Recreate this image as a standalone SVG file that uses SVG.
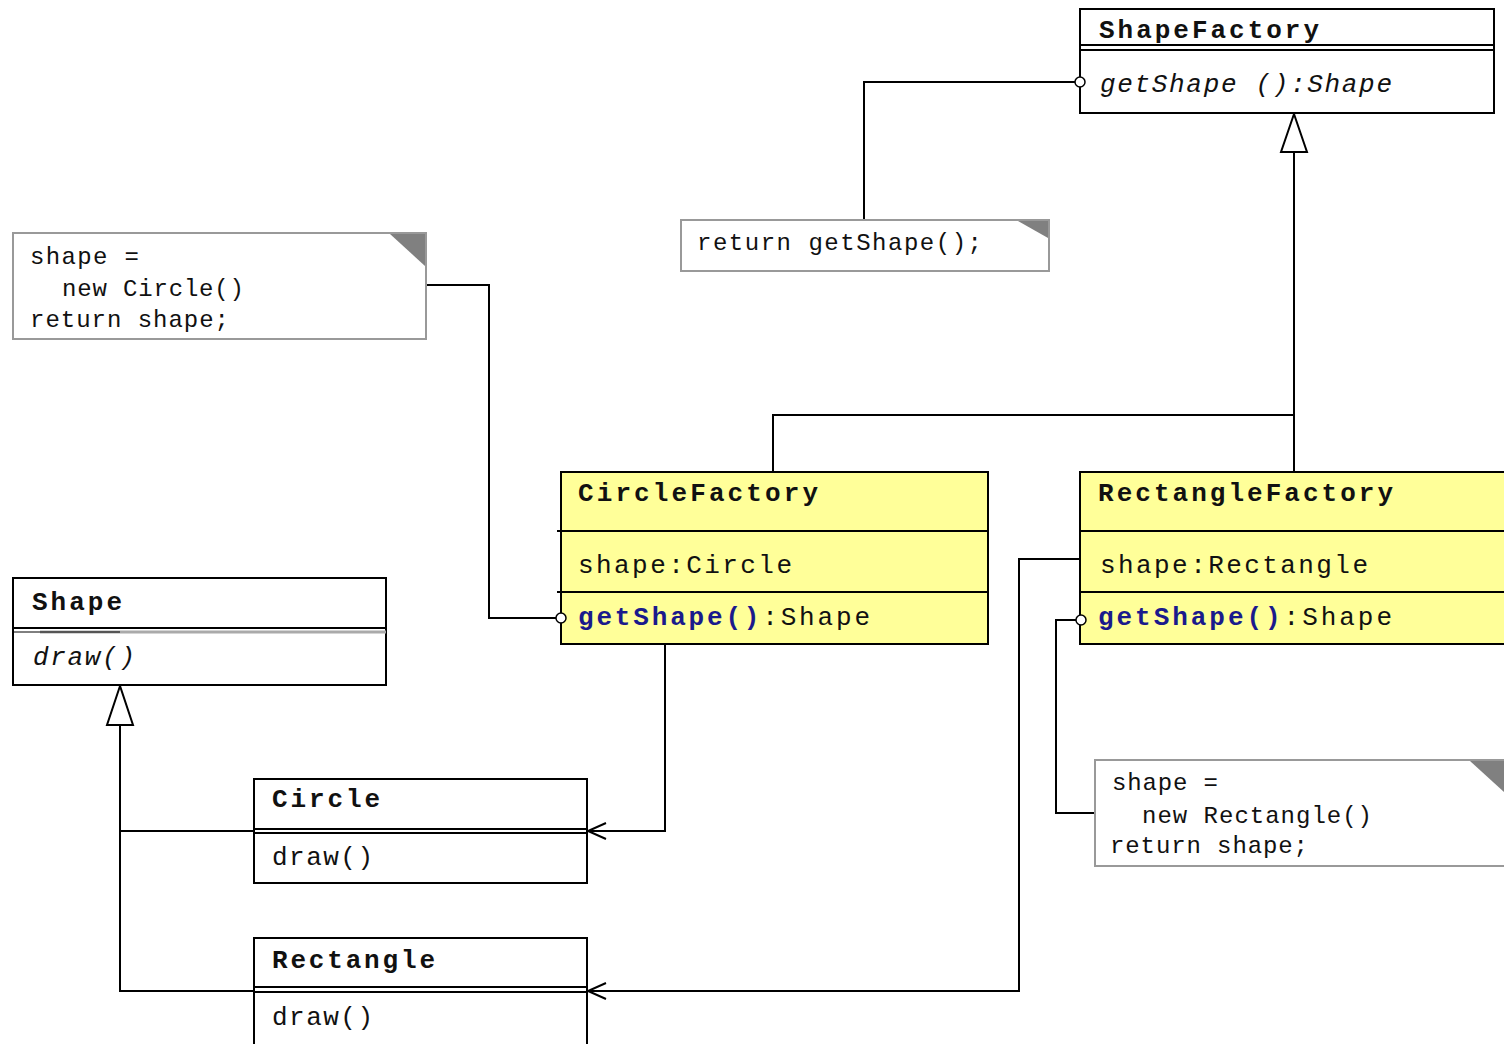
<svg xmlns="http://www.w3.org/2000/svg" width="1504" height="1044" viewBox="0 0 1504 1044">
<defs>
<style>
text{font-family:"Liberation Mono","Courier New",monospace;fill:#111}
.t{font-size:26px;font-weight:bold}
.m{font-size:26px}
.n{font-size:24px}
.i{font-style:italic}
.b{fill:#1a1a8c;font-weight:bold}
.box{fill:#fff;stroke:#000;stroke-width:2}
.yel{fill:#ffff99;stroke:#000;stroke-width:2}
.note{fill:#fff;stroke:#999;stroke-width:2}
.corner{fill:#808080}
.div{stroke:#000;stroke-width:2}
.c{fill:none;stroke:#000;stroke-width:2}
.port{fill:#fff;stroke:#000;stroke-width:1.5}
.gen{fill:#fff;stroke:#000;stroke-width:2}
</style>
</defs>
<rect width="1504" height="1044" fill="#fff"/>

<g id="connectors">
<polyline class="c" points="1080,82 864,82 864,220"/>
<polyline class="c" points="1294,152 1294,472"/>
<polyline class="c" points="1294,415 773,415 773,472"/>
<polyline class="c" points="426,285 489,285 489,618 556,618"/>
<polyline class="c" points="665,644 665,831 588,831"/>
<polyline class="c" points="606,823 588,831 606,839"/>
<polyline class="c" points="1080,559 1019,559 1019,991 588,991"/>
<polyline class="c" points="606,983 588,991 606,999"/>
<polyline class="c" points="1076,620 1056,620 1056,813 1095,813"/>
<polyline class="c" points="120,725 120,991 254,991"/>
<polyline class="c" points="120,831 254,831"/>
<polygon class="gen" points="1294,114 1281,152 1307,152"/>
<polygon class="gen" points="120,686 107,725 133,725"/>
</g>

<g id="ShapeFactory">
<rect class="box" x="1080" y="9" width="414" height="104"/>
<line class="div" x1="1080" y1="45" x2="1494" y2="45"/>
<line class="div" x1="1080" y1="50" x2="1494" y2="50"/>
<text class="t" x="1099" y="38" textLength="220" lengthAdjust="spacing">ShapeFactory</text>
<text class="m i" x="1100" y="92" textLength="292" lengthAdjust="spacing">getShape ():Shape</text>
<circle class="port" cx="1080" cy="82" r="5"/>
</g>

<g id="noteReturn">
<rect class="note" x="681" y="220" width="368" height="51"/>
<polygon class="corner" points="1018,221 1048,221 1048,238"/>
<text class="n" x="697" y="250" textLength="285" lengthAdjust="spacing">return getShape();</text>
</g>

<g id="noteCircle">
<rect class="note" x="13" y="233" width="413" height="106"/>
<polygon class="corner" points="390,234 425,234 425,266"/>
<text class="n" x="30" y="264" textLength="109" lengthAdjust="spacing">shape =</text>
<text class="n" x="62" y="296" textLength="182" lengthAdjust="spacing">new Circle()</text>
<text class="n" x="30" y="327" textLength="199" lengthAdjust="spacing">return shape;</text>
</g>

<g id="CircleFactory">
<rect class="yel" x="561" y="472" width="427" height="172"/>
<line class="div" x1="557" y1="531" x2="988" y2="531"/>
<line class="div" x1="557" y1="592" x2="988" y2="592"/>
<text class="t" x="578" y="501" textLength="240" lengthAdjust="spacing">CircleFactory</text>
<text class="m" x="578" y="573" textLength="214" lengthAdjust="spacing">shape:Circle</text>
<text class="m" x="578" y="625" textLength="292" lengthAdjust="spacing"><tspan class="b">getShape()</tspan>:Shape</text>
<circle class="port" cx="561" cy="618" r="5"/>
</g>

<g id="RectangleFactory">
<rect class="yel" x="1080" y="472" width="440" height="172"/>
<line class="div" x1="1080" y1="531" x2="1504" y2="531"/>
<line class="div" x1="1080" y1="592" x2="1504" y2="592"/>
<text class="t" x="1098" y="501" textLength="295" lengthAdjust="spacing">RectangleFactory</text>
<text class="m" x="1100" y="573" textLength="268" lengthAdjust="spacing">shape:Rectangle</text>
<text class="m" x="1098" y="625" textLength="294" lengthAdjust="spacing"><tspan class="b">getShape()</tspan>:Shape</text>
<circle class="port" cx="1081" cy="620" r="5"/>
</g>

<g id="noteRectangle">
<rect class="note" x="1095" y="760" width="420" height="106"/>
<polygon class="corner" points="1470,761 1504,761 1504,792"/>
<text class="n" x="1112" y="790" textLength="106" lengthAdjust="spacing">shape =</text>
<text class="n" x="1142" y="823" textLength="230" lengthAdjust="spacing">new Rectangle()</text>
<text class="n" x="1110" y="853" textLength="198" lengthAdjust="spacing">return shape;</text>
</g>

<g id="Shape">
<rect class="box" x="13" y="578" width="373" height="107"/>
<line class="div" x1="13" y1="628" x2="386" y2="628"/>
<line x1="40" y1="632" x2="386" y2="632" stroke="#aaa" stroke-width="3"/>
<line x1="13" y1="632" x2="120" y2="632" stroke="#000" stroke-width="1"/>
<text class="t" x="32" y="610" textLength="90" lengthAdjust="spacing">Shape</text>
<text class="m i" x="33" y="665" textLength="102" lengthAdjust="spacing">draw()</text>
</g>

<g id="Circle">
<rect class="box" x="254" y="779" width="333" height="104"/>
<line class="div" x1="254" y1="829" x2="587" y2="829"/>
<line class="div" x1="254" y1="833" x2="587" y2="833"/>
<text class="t" x="272" y="807" textLength="108" lengthAdjust="spacing">Circle</text>
<text class="m" x="272" y="865" textLength="101" lengthAdjust="spacing">draw()</text>
</g>

<g id="Rectangle">
<rect class="box" x="254" y="938" width="333" height="110"/>
<line class="div" x1="254" y1="987" x2="587" y2="987"/>
<line class="div" x1="254" y1="992" x2="587" y2="992"/>
<text class="t" x="272" y="968" textLength="163" lengthAdjust="spacing">Rectangle</text>
<text class="m" x="272" y="1025" textLength="101" lengthAdjust="spacing">draw()</text>
</g>
</svg>
